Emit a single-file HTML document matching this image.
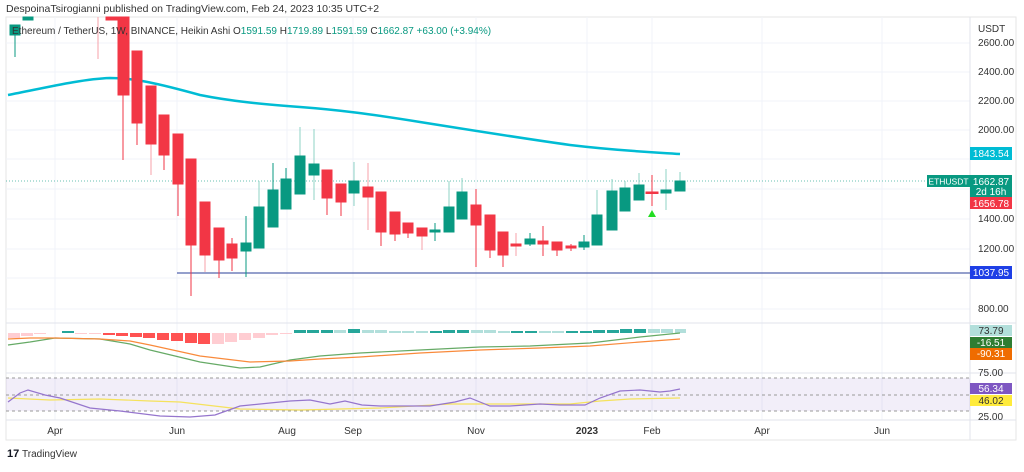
<!DOCTYPE html>
<html><head><meta charset="utf-8"><style>
body{margin:0;background:#fff;font-family:"Liberation Sans",sans-serif}
svg text{font-family:"Liberation Sans",sans-serif}
</style></head><body>
<svg width="1024" height="467" viewBox="0 0 1024 467" xmlns="http://www.w3.org/2000/svg">
<rect width="1024" height="467" fill="#fff"/>
<text x="6" y="12" font-size="10.5" fill="#333">DespoinaTsirogianni published on TradingView.com, Feb 24, 2023 10:35 UTC+2</text>
<rect x="6" y="17" width="1010" height="423" fill="none" stroke="#e6e6e6"/>
<g stroke="#f0f3fa" stroke-width="1">
<line x1="55" y1="17" x2="55" y2="420"/><line x1="177" y1="17" x2="177" y2="420"/><line x1="287" y1="17" x2="287" y2="420"/><line x1="353" y1="17" x2="353" y2="420"/><line x1="476" y1="17" x2="476" y2="420"/><line x1="587" y1="17" x2="587" y2="420"/><line x1="652" y1="17" x2="652" y2="420"/><line x1="762" y1="17" x2="762" y2="420"/><line x1="882" y1="17" x2="882" y2="420"/>
<line x1="6" y1="43" x2="970" y2="43"/><line x1="6" y1="72" x2="970" y2="72"/><line x1="6" y1="101" x2="970" y2="101"/><line x1="6" y1="130" x2="970" y2="130"/><line x1="6" y1="159" x2="970" y2="159"/><line x1="6" y1="189" x2="970" y2="189"/><line x1="6" y1="219" x2="970" y2="219"/><line x1="6" y1="249" x2="970" y2="249"/><line x1="6" y1="278" x2="970" y2="278"/><line x1="6" y1="309" x2="970" y2="309"/>
</g>
<line x1="6" y1="323" x2="1016" y2="323" stroke="#e0e3eb"/>
<line x1="6" y1="373" x2="1016" y2="373" stroke="#e0e3eb"/>
<line x1="6" y1="420" x2="1016" y2="420" stroke="#e0e3eb"/>
<line x1="970" y1="17" x2="970" y2="440" stroke="#e0e3eb"/>
<g font-size="10" fill="#333" text-anchor="start">
<text x="978" y="46">2600.00</text><text x="978" y="75">2400.00</text><text x="978" y="104">2200.00</text><text x="978" y="133">2000.00</text><text x="978" y="222">1400.00</text><text x="978" y="252">1200.00</text><text x="978" y="312">800.00</text>
<text x="978" y="32">USDT</text>
</g>
<path fill="none" stroke="#00bcd4" stroke-width="2.5" d="M8,95 C40,89 80,79 110,78 C135,78 160,84 200,95 C230,101 260,104 300,107 C340,110 370,114 420,122 C470,130 520,138 570,145 C620,151 650,152 680,154"/>
<line x1="6" y1="181" x2="970" y2="181" stroke="#089981" stroke-dasharray="1,2" opacity="0.6"/>
<line x1="177" y1="273" x2="970" y2="273" stroke="#2a3f9a" stroke-width="1"/>
<g stroke-width="1">
<g fill="#089981" stroke="#089981">
<line x1="15" y1="25" x2="15" y2="57"/><rect x="10" y="25" width="10" height="10"/>
<rect x="23" y="17" width="10" height="3"/>
<line x1="246" y1="216" x2="246" y2="277"/><rect x="241" y="243" width="10" height="8"/>
<line x1="259" y1="181" x2="259" y2="207" stroke="#8fd3c5"/><rect x="254" y="207" width="10" height="41"/>
<line x1="273" y1="163" x2="273" y2="190"/><rect x="268" y="190" width="10" height="37"/>
<line x1="286" y1="168" x2="286" y2="179"/><rect x="281" y="179" width="10" height="30"/>
<line x1="300" y1="127" x2="300" y2="156" stroke="#8fd3c5"/><rect x="295" y="156" width="10" height="38"/>
<line x1="314" y1="129" x2="314" y2="200" stroke="#8fd3c5"/><rect x="309" y="164" width="10" height="11"/>
<line x1="354" y1="162" x2="354" y2="206" stroke="#8fd3c5"/><rect x="349" y="181" width="10" height="12"/>
<line x1="435" y1="223" x2="435" y2="241"/><rect x="430" y="230" width="10" height="2"/>
<line x1="449" y1="181" x2="449" y2="207" stroke="#8fd3c5"/><rect x="444" y="207" width="10" height="25"/>
<line x1="462" y1="178" x2="462" y2="192" stroke="#8fd3c5"/><rect x="457" y="192" width="10" height="27"/>
<line x1="530" y1="233" x2="530" y2="246"/><rect x="525" y="239" width="10" height="5"/>
<line x1="584" y1="235" x2="584" y2="250"/><rect x="579" y="242" width="10" height="5"/>
<line x1="597" y1="190" x2="597" y2="215" stroke="#8fd3c5"/><rect x="592" y="215" width="10" height="30"/>
<line x1="612" y1="179" x2="612" y2="191" stroke="#8fd3c5"/><rect x="607" y="191" width="10" height="39"/>
<line x1="625" y1="181" x2="625" y2="188" stroke="#8fd3c5"/><rect x="620" y="188" width="10" height="23"/>
<line x1="639" y1="173" x2="639" y2="185" stroke="#8fd3c5"/><rect x="634" y="185" width="10" height="15"/>
<line x1="666" y1="169" x2="666" y2="210" stroke="#8fd3c5"/><rect x="661" y="190" width="10" height="3"/>
<line x1="680" y1="172" x2="680" y2="181" stroke="#8fd3c5"/><rect x="675" y="181" width="10" height="10"/>
</g>
<g fill="#f23645" stroke="#f23645">
<line x1="98" y1="17" x2="98" y2="59" stroke="#f7a1a9"/>
<rect x="106" y="17" width="11" height="3"/>
<line x1="123" y1="95" x2="123" y2="160"/><rect x="118" y="17" width="11" height="78"/>
<line x1="137" y1="123" x2="137" y2="145"/><rect x="132" y="51" width="10" height="72"/>
<line x1="151" y1="144" x2="151" y2="175" stroke="#f7a1a9"/><rect x="146" y="86" width="10" height="58"/>
<line x1="164" y1="155" x2="164" y2="170"/><rect x="159" y="115" width="10" height="40"/>
<line x1="178" y1="184" x2="178" y2="216"/><rect x="173" y="134" width="10" height="50"/>
<line x1="191" y1="245" x2="191" y2="296"/><rect x="186" y="159" width="10" height="86"/>
<line x1="205" y1="255" x2="205" y2="272" stroke="#f7a1a9"/><rect x="200" y="202" width="10" height="53"/>
<line x1="219" y1="260" x2="219" y2="278"/><rect x="214" y="228" width="10" height="32"/>
<line x1="232" y1="238" x2="232" y2="271"/><rect x="227" y="244" width="10" height="14"/>
<line x1="327" y1="198" x2="327" y2="215"/><rect x="322" y="170" width="10" height="28"/>
<line x1="341" y1="202" x2="341" y2="216"/><rect x="336" y="184" width="10" height="18"/>
<line x1="368" y1="163" x2="368" y2="230" stroke="#f7a1a9"/><rect x="363" y="187" width="10" height="10"/>
<line x1="381" y1="232" x2="381" y2="246"/><rect x="376" y="192" width="10" height="40"/>
<line x1="395" y1="234" x2="395" y2="241"/><rect x="390" y="212" width="10" height="22"/>
<line x1="408" y1="233" x2="408" y2="238"/><rect x="403" y="223" width="10" height="10"/>
<line x1="422" y1="236" x2="422" y2="250" stroke="#f7a1a9"/><rect x="417" y="228" width="10" height="8"/>
<line x1="476" y1="189" x2="476" y2="267"/><rect x="471" y="205" width="10" height="20"/>
<line x1="490" y1="250" x2="490" y2="258"/><rect x="485" y="215" width="10" height="35"/>
<line x1="503" y1="255" x2="503" y2="267"/><rect x="498" y="232" width="10" height="23"/>
<line x1="516" y1="233" x2="516" y2="256" stroke="#f7a1a9"/><rect x="511" y="244" width="10" height="2"/>
<line x1="543" y1="226" x2="543" y2="256"/><rect x="538" y="241" width="10" height="3"/>
<line x1="557" y1="250" x2="557" y2="256"/><rect x="552" y="242" width="10" height="8"/>
<line x1="571" y1="244" x2="571" y2="251"/><rect x="566" y="246" width="10" height="2"/>
<line x1="652" y1="175" x2="652" y2="206"/><rect x="646" y="192" width="12" height="1.5"/>
</g>
<polygon points="648,217 656,217 652,210" fill="#22dd22"/>
</g>
<rect x="970" y="147" width="42" height="13" fill="#00bcd4"/><text x="991" y="157" font-size="10" fill="#fff" text-anchor="middle">1843.54</text>
<rect x="927" y="175" width="43" height="12" fill="#089981"/><text x="948.5" y="184.5" font-size="8.5" fill="#fff" text-anchor="middle">ETHUSDT</text>
<rect x="970" y="175" width="42" height="22" fill="#089981"/><text x="991" y="185" font-size="10" fill="#fff" text-anchor="middle">1662.87</text><text x="991" y="195" font-size="10" fill="#fff" text-anchor="middle">2d 16h</text>
<rect x="970" y="197" width="42" height="12" fill="#f23645"/><text x="991" y="207" font-size="10" fill="#fff" text-anchor="middle">1656.78</text>
<rect x="970" y="266" width="42" height="13" fill="#1e3fe6"/><text x="991" y="276" font-size="10" fill="#fff" text-anchor="middle">1037.95</text>
<text x="12" y="34" font-size="10" fill="#333">Ethereum / TetherUS, 1W, BINANCE, Heikin Ashi  <tspan fill="#333">O</tspan><tspan fill="#089981">1591.59</tspan>  H<tspan fill="#089981">1719.89</tspan>  L<tspan fill="#089981">1591.59</tspan>  C<tspan fill="#089981">1662.87</tspan>  <tspan fill="#089981">+63.00 (+3.94%)</tspan></text>
<g>
<rect x="8" y="333" width="12" height="5" fill="#ffcdd2"/><rect x="21" y="333" width="12" height="3" fill="#ffcdd2"/><rect x="34" y="333" width="12" height="1" fill="#ffcdd2"/>
<rect x="62" y="331" width="12" height="2" fill="#26a69a"/>
<rect x="75" y="333" width="12" height="1" fill="#ffcdd2"/><rect x="89" y="333" width="12" height="1" fill="#ffcdd2"/>
<rect x="103" y="333" width="12" height="2" fill="#ff5252"/><rect x="116" y="333" width="12" height="3" fill="#ff5252"/><rect x="130" y="333" width="12" height="4" fill="#ff5252"/><rect x="143" y="333" width="12" height="5" fill="#ff5252"/><rect x="157" y="333" width="12" height="7" fill="#ff5252"/><rect x="171" y="333" width="12" height="8" fill="#ff5252"/><rect x="185" y="333" width="12" height="10" fill="#ff5252"/><rect x="198" y="333" width="12" height="11" fill="#ff5252"/>
<rect x="212" y="333" width="12" height="11" fill="#ffcdd2"/><rect x="225" y="333" width="12" height="9" fill="#ffcdd2"/><rect x="239" y="333" width="12" height="7" fill="#ffcdd2"/><rect x="253" y="333" width="12" height="5" fill="#ffcdd2"/><rect x="266" y="333" width="12" height="2" fill="#ffcdd2"/><rect x="280" y="333" width="12" height="1" fill="#ffcdd2"/>
<rect x="294" y="330" width="12" height="3" fill="#26a69a"/><rect x="307" y="330" width="12" height="3" fill="#26a69a"/><rect x="321" y="330" width="12" height="3" fill="#26a69a"/><rect x="334" y="330" width="12" height="3" fill="#b2dfdb"/><rect x="348" y="329" width="12" height="4" fill="#26a69a"/><rect x="362" y="330" width="12" height="3" fill="#b2dfdb"/><rect x="375" y="330" width="12" height="3" fill="#b2dfdb"/><rect x="389" y="331" width="12" height="2" fill="#b2dfdb"/><rect x="402" y="331" width="12" height="2" fill="#b2dfdb"/><rect x="416" y="331" width="12" height="2" fill="#b2dfdb"/><rect x="430" y="331" width="12" height="2" fill="#26a69a"/><rect x="443" y="330" width="12" height="3" fill="#26a69a"/><rect x="457" y="330" width="12" height="3" fill="#26a69a"/><rect x="471" y="330" width="12" height="3" fill="#b2dfdb"/><rect x="484" y="330" width="12" height="3" fill="#b2dfdb"/><rect x="498" y="331" width="12" height="2" fill="#b2dfdb"/><rect x="511" y="331" width="12" height="2" fill="#26a69a"/><rect x="525" y="331" width="12" height="2" fill="#26a69a"/><rect x="539" y="331" width="12" height="2" fill="#b2dfdb"/><rect x="552" y="331" width="12" height="2" fill="#b2dfdb"/><rect x="566" y="331" width="12" height="2" fill="#26a69a"/><rect x="580" y="331" width="12" height="2" fill="#26a69a"/><rect x="593" y="330" width="12" height="3" fill="#26a69a"/><rect x="607" y="330" width="12" height="3" fill="#26a69a"/><rect x="620" y="329" width="12" height="4" fill="#26a69a"/><rect x="634" y="329" width="12" height="4" fill="#26a69a"/><rect x="648" y="329" width="12" height="4" fill="#b2dfdb"/><rect x="661" y="329" width="12" height="4" fill="#b2dfdb"/><rect x="675" y="329" width="11" height="4" fill="#b2dfdb"/>
</g>
<polyline fill="none" stroke="#66aa66" stroke-width="1.2" points="8,345 30,342 55,338 100,339 130,344 150,350 200,362 240,368 260,367 290,360 320,356 360,353 420,350 480,347 530,346 590,343 640,337 680,333"/>
<polyline fill="none" stroke="#f98a3b" stroke-width="1.2" points="8,339 30,338 55,338 100,339 130,341 150,345 200,356 250,362 290,361 320,359 360,357 420,353 480,350 540,348 590,346 640,342 680,339"/>
<rect x="970" y="325" width="42" height="11" fill="#b2dfdb"/><text x="991" y="334" font-size="10" fill="#333" text-anchor="middle">73.79</text>
<rect x="970" y="337" width="42" height="11" fill="#2e7d32"/><text x="991" y="346" font-size="10" fill="#fff" text-anchor="middle">-16.51</text>
<rect x="970" y="348" width="42" height="12" fill="#ef6c00"/><text x="991" y="357" font-size="10" fill="#fff" text-anchor="middle">-90.31</text>
<rect x="6" y="378" width="964" height="33" fill="#7e57c2" opacity="0.1"/>
<g stroke="#999" stroke-dasharray="3,3"><line x1="6" y1="378" x2="970" y2="378"/><line x1="6" y1="395" x2="970" y2="395"/><line x1="6" y1="411" x2="970" y2="411"/></g>
<polyline fill="none" stroke="#f5e25c" stroke-width="1.2" points="8,398 50,400 100,399 150,401 180,402 240,409 300,410 380,408 450,404 520,404 570,404 600,401 630,399 680,398"/>
<polyline fill="none" stroke="#9575cd" stroke-width="1.2" points="8,402 20,393 28,390 45,395 60,398 90,408 120,411 160,416 190,417 215,415 240,406 270,403 290,401 310,400 330,404 345,401 362,405 380,406 400,406 430,406 455,402 470,398 490,406 510,406 540,404 560,405 585,405 600,398 620,391 640,390 660,392 670,391 680,389"/>
<text x="978" y="376" font-size="10" fill="#333">75.00</text>
<text x="978" y="420" font-size="10" fill="#333">25.00</text>
<rect x="970" y="383" width="42" height="11" fill="#7e57c2"/><text x="991" y="392" font-size="10" fill="#fff" text-anchor="middle">56.34</text>
<rect x="970" y="395" width="42" height="11" fill="#ffeb3b"/><text x="991" y="404" font-size="10" fill="#333" text-anchor="middle">46.02</text>
<g font-size="10" fill="#333" text-anchor="middle">
<text x="55" y="434">Apr</text><text x="177" y="434">Jun</text><text x="287" y="434">Aug</text><text x="353" y="434">Sep</text><text x="476" y="434">Nov</text><text x="587" y="434" font-weight="bold">2023</text><text x="652" y="434">Feb</text><text x="762" y="434">Apr</text><text x="882" y="434">Jun</text>
</g>
<text x="7" y="457" font-size="11" font-weight="bold" fill="#131722">17</text>
<text x="22" y="457" font-size="10" fill="#333">TradingView</text>
</svg>
</body></html>
